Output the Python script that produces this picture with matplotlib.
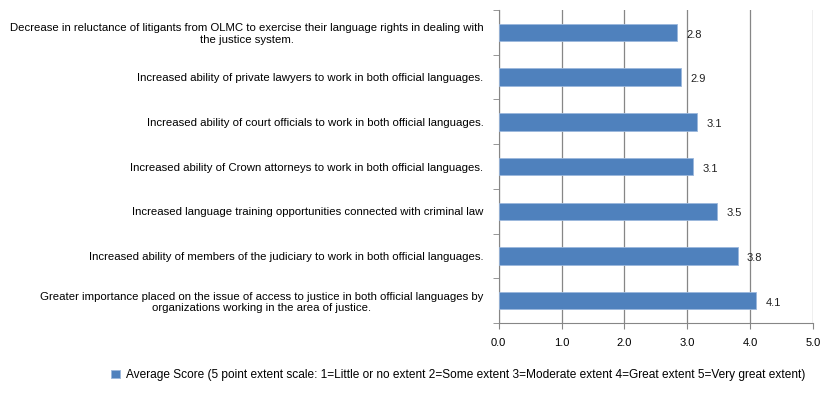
import matplotlib.pyplot as plt
import numpy as np

plt.rcParams['font.family'] = ['Liberation Sans', 'DejaVu Sans']

# categories top to bottom as they appear
categories = [
    'Decrease in reluctance of litigants from OLMC to exercise their language rights in dealing with\nthe justice system.',
    'Increased ability of private lawyers to work in both official languages.',
    'Increased ability of court officials to work in both official languages.',
    'Increased ability of Crown attorneys to work in both official languages.',
    'Increased language training opportunities connected with criminal law',
    'Increased ability of members of the judiciary to work in both official languages.',
    'Greater importance placed on the issue of access to justice in both official languages by\norganizations working in the area of justice.',
]
scores = [2.83, 2.9, 3.15, 3.09, 3.48, 3.8, 4.1]
labels = ['2.8', '2.9', '3.1', '3.1', '3.5', '3.8', '4.1']
legend_label = 'Average Score (5 point extent scale: 1=Little or no extent 2=Some extent 3=Moderate extent 4=Great extent 5=Very great extent)'

bar_color = '#4f81bd'

fig = plt.figure(figsize=(8.36, 4.01), dpi=100)
ax = fig.add_axes([0.5965, 0.1945, 0.376, 0.7805])

n = len(categories)
ypos = np.arange(n)[::-1]
bars = ax.barh(ypos, scores, height=0.39, color=bar_color, edgecolor='#9bb7dc', linewidth=0.6,
               label=legend_label, zorder=3)

for y, v, t in zip(ypos, scores, labels):
    ax.text(v + 0.15, y - 0.05, t, va='center', ha='left', fontsize=8, color='#222222')

ax.set_xlim(0, 5)
ax.set_ylim(-0.5, n - 0.5)
ax.set_xticks(np.arange(0, 5.1, 1))
ax.set_xticklabels([f'{x:.1f}' for x in np.arange(0, 5.1, 1)], fontsize=8)
ax.grid(axis='x', color='#868686', linewidth=0.9, zorder=0)

ax.set_yticks(ypos)
ax.set_yticklabels(categories, fontsize=8.2)
for lbl in ax.get_yticklabels():
    lbl.set_multialignment('center')
ax.tick_params(axis='y', length=0, pad=11)
ax.set_yticks(np.arange(-0.5, n, 1), minor=True)
ax.tick_params(axis='y', which='minor', length=4, color='#868686', direction='out')
ax.tick_params(axis='x', length=4, color='#868686', pad=7)

for s in ['top', 'right']:
    ax.spines[s].set_visible(False)
ax.spines['left'].set_color('#868686')
ax.spines['bottom'].set_color('#868686')

fig.legend(handles=[bars], labels=[legend_label], loc='center', bbox_to_anchor=(0.548, 0.065),
           frameon=False, fontsize=8.6, handlelength=0.7, handleheight=0.7, handletextpad=0.5)

fig.savefig('out.png', dpi=100)
